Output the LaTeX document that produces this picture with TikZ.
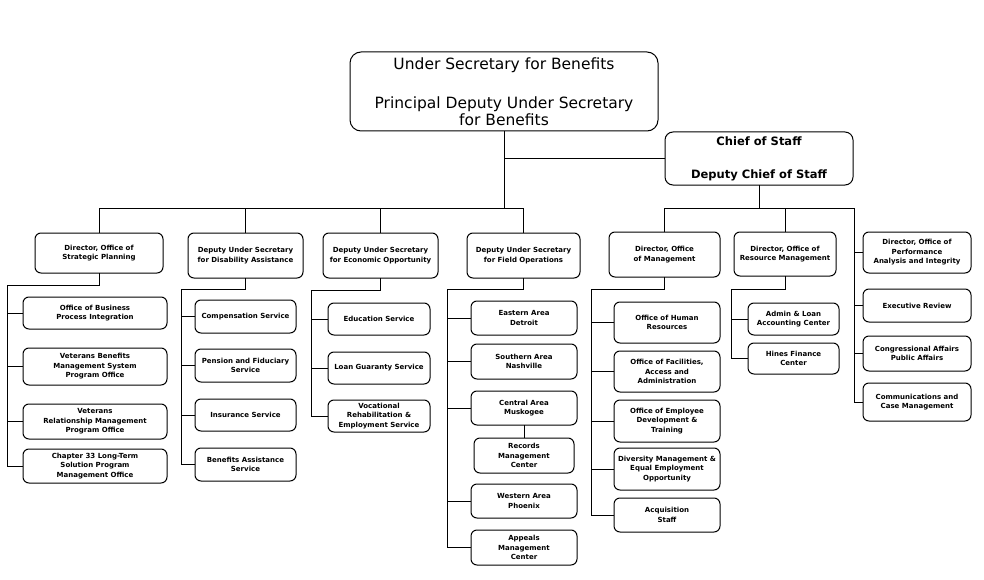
\documentclass[tikz,border=0pt]{standalone}
\usepackage{fontspec}
\setmainfont{DejaVu Sans}
\begin{document}
\begin{tikzpicture}[x=1pt,y=-1pt,
  box/.style={draw=black, line width=1pt, rounded corners=6pt, align=center, inner sep=0pt, outer sep=0pt,
     font=\bfseries\fontsize{7}{9.5}\selectfont},
  topbox/.style={box, rounded corners=11pt, font=\fontsize{15.5}{17}\selectfont},
  cosbox/.style={box, rounded corners=8pt, font=\bfseries\fontsize{11.5}{13}\selectfont},
  conn/.style={draw=black, line width=1pt}]
\useasboundingbox (0,0) rectangle (984,580);
\fill[white] (0,0) rectangle (984,580);
\newcommand\bx[7][box]{%
 \pgfmathsetmacro\myBW{#5-#3}\pgfmathsetmacro\myBH{#6-#4}%
 \pgfmathsetmacro\myCX{(#3+#5)/2}\pgfmathsetmacro\myCY{(#4+#6)/2}%
 \node[#1, minimum width=\myBW pt, minimum height=\myBH pt] (#2) at (\myCX,\myCY) {#7};}
% top level
\bx[topbox]{us}{350}{52}{658}{131}{Under Secretary for Benefits\\[22pt]Principal Deputy Under Secretary\\for Benefits}
\bx[cosbox]{cos}{665}{132}{853}{185}{Chief of Staff\\[20pt]Deputy Chief of Staff}
% level 2
\bx{sp}{35}{233}{163}{273}{Director, Office of\\Strategic Planning}
\bx{da}{188}{233}{303}{278}{Deputy Under Secretary\\for Disability Assistance}
\bx{eo}{323}{233}{438}{278}{Deputy Under Secretary\\for Economic Opportunity}
\bx{fo}{467}{233}{580}{278}{Deputy Under Secretary\\for Field Operations}
\bx{om}{609}{232}{720}{277}{Director, Office\\of Management}
\bx{rm}{734}{232}{836}{276}{Director, Office of\\Resource Management}
\bx{pa}{863}{232}{971}{273}{Director, Office of\\Performance\\Analysis and Integrity}
% strategic planning
\bx{bp}{23}{297}{167}{329}{Office of Business\\Process Integration}
\bx{vb}{23}{348}{167}{385}{Veterans Benefits\\Management System\\Program Office}
\bx{vr}{23}{404}{167}{439}{Veterans\\Relationship Management\\Program Office}
\bx{ch}{23}{449}{167}{483}{Chapter 33 Long-Term\\Solution Program\\Management Office}
% disability
\bx{cs}{195}{300}{296}{333}{Compensation Service}
\bx{pf}{195}{349}{296}{382}{Pension and Fiduciary\\Service}
\bx{is}{195}{399}{296}{431}{Insurance Service}
\bx{ba}{195}{448}{296}{481}{Benefits Assistance\\Service}
% economic opportunity
\bx{es}{328}{303}{430}{335}{Education Service}
\bx{lg}{328}{352}{430}{384}{Loan Guaranty Service}
\bx{vre}{328}{400}{430}{432}{Vocational\\Rehabilitation \&\\Employment Service}
% field operations
\bx{ea}{471}{301}{577}{335}{Eastern Area\\Detroit}
\bx{sa}{471}{344}{577}{379}{Southern Area\\Nashville}
\bx{ca}{471}{391}{577}{425}{Central Area\\Muskogee}
\bx{rmc}{474}{438}{574}{473}{Records\\Management\\Center}
\bx{wa}{471}{484}{577}{518}{Western Area\\Phoenix}
\bx{am}{471}{530}{577}{565}{Appeals\\Management\\Center}
% management
\bx{hr}{614}{302}{720}{343}{Office of Human\\Resources}
\bx{fa}{614}{351}{720}{392}{Office of Facilities,\\Access and\\Administration}
\bx{ed}{614}{400}{720}{442}{Office of Employee\\Development \&\\Training}
\bx{dm}{614}{448}{720}{490}{Diversity Management \&\\Equal Employment\\Opportunity}
\bx{aq}{614}{498}{720}{532}{Acquisition\\Staff}
% resource management
\bx{al}{748}{303}{839}{335}{Admin \& Loan\\Accounting Center}
\bx{hf}{748}{343}{839}{374}{Hines Finance\\Center}
% right column
\bx{er}{863}{289}{971}{322}{Executive Review}
\bx{cg}{863}{336}{971}{371}{Congressional Affairs\\Public Affairs}
\bx{cm}{863}{383}{971}{421}{Communications and\\Case Management}
% connectors
\coordinate (bar) at (0,208);
\draw[conn] (us.south) -- (us.south |- bar);
\draw[conn] (us.south |- cos.west) -- (cos.west);
\draw[conn] (sp.north) -- (sp.north |- bar) -- (fo.north |- bar) -- (fo.north);
\draw[conn] (da.north) -- (da.north |- bar);
\draw[conn] (eo.north) -- (eo.north |- bar);
\coordinate (spR) at (854,208);
\draw[conn] (cos.south) -- (cos.south |- bar);
\draw[conn] (om.north) -- (om.north |- bar) -- (spR) -- (spR |- cm.west) -- (cm.west);
\draw[conn] (rm.north) -- (rm.north |- bar);
\foreach \c in {pa,er,cg} \draw[conn] (spR |- \c.west) -- (\c.west);
% strategic planning column
\coordinate (s1) at (7,285);
\draw[conn] (sp.south) -- (sp.south |- s1) -- (s1) -- (s1 |- ch.west) -- (ch.west);
\foreach \c in {bp,vb,vr} \draw[conn] (s1 |- \c.west) -- (\c.west);
% disability column
\coordinate (s2) at (181,289);
\draw[conn] (da.south) -- (da.south |- s2) -- (s2) -- (s2 |- ba.west) -- (ba.west);
\foreach \c in {cs,pf,is} \draw[conn] (s2 |- \c.west) -- (\c.west);
% economic column
\coordinate (s3) at (311,290);
\draw[conn] (eo.south) -- (eo.south |- s3) -- (s3) -- (s3 |- vre.west) -- (vre.west);
\foreach \c in {es,lg} \draw[conn] (s3 |- \c.west) -- (\c.west);
% field operations column
\coordinate (s4) at (447,289);
\draw[conn] (fo.south) -- (fo.south |- s4) -- (s4) -- (s4 |- am.west) -- (am.west);
\foreach \c in {ea,sa,ca,wa} \draw[conn] (s4 |- \c.west) -- (\c.west);
\draw[conn] (ca.south) -- (rmc.north);
% management column
\coordinate (s5) at (591,289);
\draw[conn] (om.south) -- (om.south |- s5) -- (s5) -- (s5 |- aq.west) -- (aq.west);
\foreach \c in {hr,fa,ed,dm} \draw[conn] (s5 |- \c.west) -- (\c.west);
% resource management column
\coordinate (s6) at (731,289);
\draw[conn] (rm.south) -- (rm.south |- s6) -- (s6) -- (s6 |- hf.west) -- (hf.west);
\draw[conn] (s6 |- al.west) -- (al.west);
\end{tikzpicture}
\end{document}
